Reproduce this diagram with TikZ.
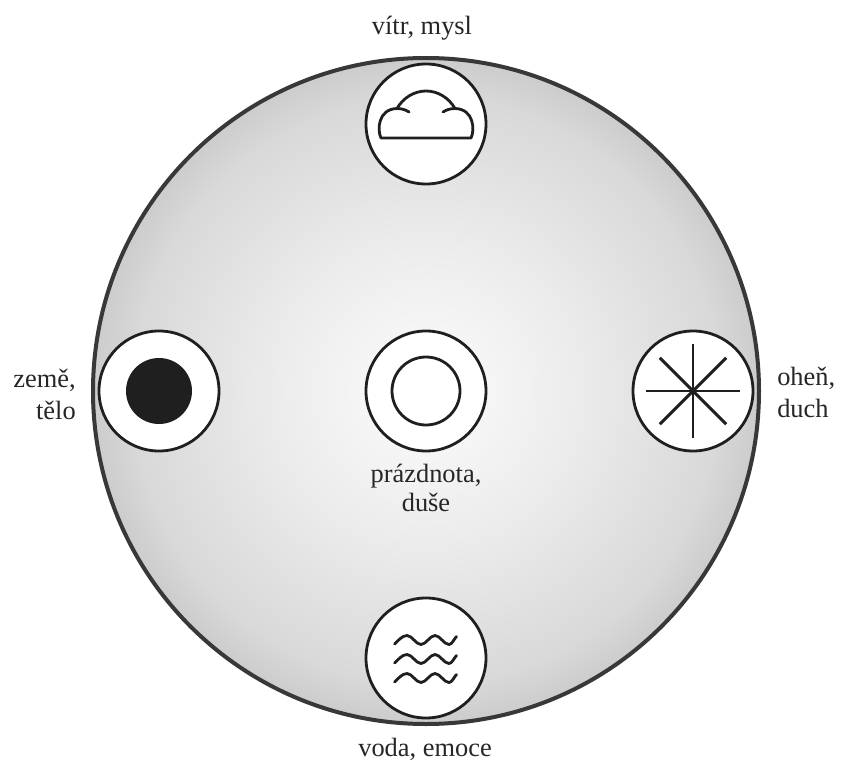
\documentclass[tikz,border=0pt]{standalone}
\usepackage{fontspec}
\setmainfont{Liberation Serif}
\pgfdeclareradialshading{discshade}{\pgfpointorigin}{color(0bp)=(black!2); color(5bp)=(black!4); color(12bp)=(black!8); color(22bp)=(black!15); color(25bp)=(black!20)}
\tikzset{
  big/.style={draw=black!78,line width=3pt},
  badge/.style={circle,draw=black!88,line width=2.1pt,fill=white,minimum size=90pt,inner sep=0pt},
  glyph/.style={draw=black!88,line width=2.1pt,line cap=round,line join=round},
  lab/.style={font=\fontsize{19.8pt}{21.5pt}\selectfont,text=black!85,align=center,inner sep=0pt},
  labwide/.style={font=\fontsize{19.8pt}{24pt}\selectfont,text=black!85,inner sep=0pt}
}
\begin{document}
\begin{tikzpicture}[x=0.75pt,y=-0.75pt]
\useasboundingbox (0,0) rectangle (843,771);
\fill[white] (0,0) rectangle (843,771);
\shade[shading=discshade] (426,391) circle [radius=333];
\draw[big] (426,391) circle [radius=333];
\node[badge] (air) at (426,124) {};
\node[badge] (earth) at (159,391) {};
\node[badge] (void) at (426,391) {};
\node[badge] (fire) at (693,391) {};
\node[badge] (water) at (426,658) {};
% cloud
\draw[glyph] (409,112) .. controls (406,110) and (402,108.5) .. (397,108.5)
  .. controls (378,109) and (377,130) .. (381,138) -- (471,138)
  .. controls (475,130) and (474,109) .. (455,108.5)
  .. controls (450,108.5) and (446,110) .. (443,112);
\draw[glyph] (397,108.5) .. controls (403,98) and (414,91) .. (426,91)
  .. controls (438,91) and (449,98) .. (455,108.5);
% dot and ring
\fill[black!88] (earth.center) circle [radius=33];
\draw[glyph] (void.center) circle [radius=34];
% star
\foreach \a in {0,45,...,315}
  \draw[glyph,line cap=butt,line width=2.2pt] (fire.center) -- ++(\a:47);
% waves
\foreach \y in {640,659,678}
  \draw[glyph] (394.5,\y+4) .. controls (398,\y+1) and (402,\y-4.5) .. (407,\y-4.5)
    .. controls (412,\y-4.5) and (416,\y+4.5) .. (421,\y+4.5)
    .. controls (426,\y+4.5) and (430,\y-4.5) .. (435,\y-4.5)
    .. controls (440,\y-4.5) and (444,\y+4.5) .. (449,\y+4.5)
    .. controls (452,\y+4.5) and (454,\y-1) .. (456.5,\y-3.5);
\node[lab] (t1) at (422,28) {vítr, mysl};
\node[labwide,anchor=east,align=right] (t2) at (76,394) {země,\\tělo};
\node[lab] (t3) at (426,488) {prázdnota,\\duše};
\node[labwide,anchor=west,align=left] (t4) at (777,392) {oheň,\\duch};
\node[lab] (t5) at (425,749) {voda, emoce};
\end{tikzpicture}
\end{document}
